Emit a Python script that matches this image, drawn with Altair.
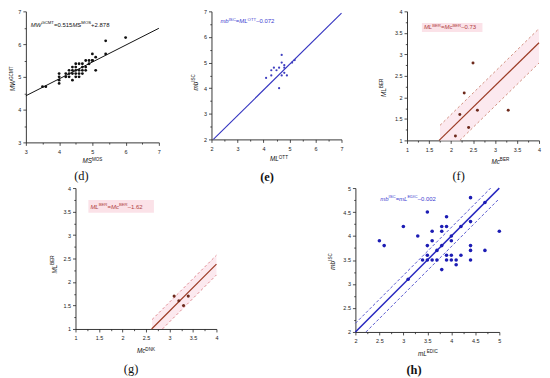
import altair as alt
import pandas as pd

SANS = "Liberation Sans"
SERIF = "Liberation Serif"

# ---------------- data ----------------
# (d) MW(GCMT) vs MS(MOS)
d_x = [3.5, 3.6, 4.0, 4.0, 4.0, 4.0, 4.2, 4.2, 4.3, 4.3, 4.3, 4.4, 4.4, 4.4, 4.4,
       4.5, 4.5, 4.5, 4.5, 4.5, 4.6, 4.6, 4.6, 4.6, 4.7, 4.7, 4.7, 4.7, 4.8, 4.8,
       4.8, 4.9, 4.9, 5.0, 5.0, 5.0, 5.1, 5.1, 5.4, 5.4, 6.0]
d_y = [4.7, 4.7, 5.1, 5.0, 4.9, 4.8, 5.1, 5.0, 5.2, 5.1, 5.0, 5.3, 5.2, 5.1, 4.9,
       5.4, 5.3, 5.2, 5.1, 5.0, 5.4, 5.2, 5.1, 5.0, 5.4, 5.3, 5.2, 5.1, 5.5, 5.3,
       5.2, 5.5, 5.4, 5.5, 5.7, 5.5, 5.6, 5.2, 5.7, 6.1, 6.2]
d_fit_x = [3.0, 7.0]
d_fit_y = [4.423, 6.483]

# (e) mb(ISC) vs ML(OTT)
e_x = [4.1, 4.3, 4.3, 4.4, 4.5, 4.6, 4.6, 4.7, 4.7, 4.7, 4.8, 4.8, 4.8, 4.9, 5.1, 5.2]
e_y = [4.4, 4.7, 4.5, 4.8, 4.7, 4.8, 4.0, 5.3, 5.0, 4.5, 4.8, 4.9, 4.6, 4.5, 5.0, 5.1]
e_fit_x = [2.072, 7.0]
e_fit_y = [2.0, 6.928]

# (f) ML(BER) vs Mc(BER)
f_x = [2.1, 2.2, 2.3, 2.5, 2.4, 2.6, 3.3]
f_y = [1.1, 1.6, 2.1, 2.8, 1.3, 1.7, 1.7]
f_fit_x = [1.73, 4.0]
f_fit_y = [1.0, 3.27]
f_up_x = [1.75, 4.0]
f_up_y = [1.35, 3.6]
f_lo_x = [2.2, 4.0]
f_lo_y = [1.0, 2.8]
f_band_x = [1.75, 2.2, 4.0]
f_band_lo = [1.0, 1.0, 2.8]
f_band_hi = [1.35, 1.8, 3.6]

# (g) ML(BER) vs Mc(DNK)
g_x = [3.1, 3.2, 3.4, 3.3]
g_y = [1.7, 1.6, 1.7, 1.5]
g_fit_x = [2.62, 4.0]
g_fit_y = [1.0, 2.38]
g_up_x = [2.63, 4.0]
g_up_y = [1.2, 2.57]
g_lo_x = [2.85, 4.0]
g_lo_y = [1.0, 2.15]
g_band_x = [2.63, 2.85, 4.0]
g_band_lo = [1.0, 1.0, 2.15]
g_band_hi = [1.2, 1.42, 2.57]

# (h) mb(ISC) vs mL(EDIC)
h_x = [2.5, 2.6, 3.0, 3.1, 3.3, 3.4, 3.5, 3.5, 3.5, 3.5, 3.6, 3.6, 3.6, 3.7, 3.7,
       3.8, 3.8, 3.8, 3.8, 3.9, 3.9, 3.9, 3.9, 4.0, 4.0, 4.0, 4.0, 4.1, 4.1, 4.2,
       4.2, 4.4, 4.4, 4.4, 4.4, 4.4, 4.7, 4.7, 5.0]
h_y = [3.9, 3.8, 4.2, 3.1, 4.0, 3.5, 4.5, 3.8, 3.6, 3.5, 4.1, 3.9, 3.5, 3.7, 3.5,
       4.2, 4.1, 3.8, 3.3, 4.4, 4.2, 3.6, 3.5, 4.0, 3.9, 3.6, 3.5, 3.5, 3.4, 4.2,
       3.6, 4.8, 4.3, 3.8, 3.7, 3.5, 4.7, 3.7, 4.1]
h_fit_x = [2.0, 5.0]
h_fit_y = [2.0, 4.998]
h_up_x = [2.0, 4.82]
h_up_y = [2.18, 5.0]
h_lo_x = [2.22, 5.0]
h_lo_y = [2.0, 4.78]

# ---------------- helpers ----------------
ONE = pd.DataFrame({"k": [0]})
AW = {"M": 833, "W": 944, "S": 667, "L": 556, "G": 778, "C": 722, "T": 611,
      "O": 778, "I": 278, "B": 667, "E": 667, "R": 722, "D": 722, "N": 722,
      "K": 667, "m": 833, "b": 556, "c": 500, ".": 278, "=": 584, "+": 584,
      "\u2013": 556, "-": 333}


def tw(s, size):
    return sum(AW.get(c, 556) for c in s) * size / 1000.0


def rich(segs, x, y, size, color, angle=0, center=False, font=SANS):
    sup = size * 0.72
    widths = [tw(t, sup if k == "s" else size) for t, k in segs]
    off = -sum(widths) / 2 if center else 0.0
    out = []
    for (t, k), wd in zip(segs, widths):
        out.append(
            alt.Chart(ONE).mark_text(
                text=t, font=font, fontSize=sup if k == "s" else size,
                fontStyle="italic" if k == "i" else "normal",
                align="left", baseline="alphabetic", dx=off,
                dy=-size * 0.42 if k == "s" else 0, angle=angle, color=color,
            ).encode(x=alt.value(x), y=alt.value(y))
        )
        off += wd
    return out


def make_axis(dom, major, minor, orient):
    n = int(round((dom[1] - dom[0]) / minor))
    vals = [round(dom[0] + i * minor, 4) for i in range(n + 1)]
    test = f"abs(datum.value/{major} - round(datum.value/{major})) < 0.001"
    return alt.Axis(
        values=vals, title=None, grid=False, labelOverlap=False, labelFlush=False,
        labelExpr=f"{test} ? format(datum.value, '~g') : ''",
        labelFont=SANS, labelFontSize=5.5, labelColor="#222",
        labelPadding=4 if orient == "x" else 2,
        tickSize={"condition": {"test": test, "value": 3}, "value": 1.7},
        tickColor="#222", tickWidth=0.8, domainColor="#222", domainWidth=0.9,
    )


def panel(p):
    xs = alt.Scale(domain=p["xdom"], nice=False, zero=False)
    ys = alt.Scale(domain=p["ydom"], nice=False, zero=False)
    ax = make_axis(p["xdom"], p["major"], p["minor"], "x")
    ay = make_axis(p["ydom"], p["major"], p["minor"], "y")
    X = alt.X("x:Q", scale=xs, axis=ax)
    Y = alt.Y("y:Q", scale=ys, axis=ay)
    w, h = p["w"], p["h"]
    layers = []
    if p.get("band"):
        bx, blo, bhi = p["band"]
        bdf = pd.DataFrame({"x": bx, "y": blo, "y2": bhi})
        layers.append(alt.Chart(bdf).mark_area(color="#fce9ef", opacity=1)
                      .encode(x=X, y=Y, y2="y2:Q"))
    if p.get("box"):
        bx0, by0, bx1, by1 = p["box"]
        layers.append(alt.Chart(ONE).mark_rect(color="#fbe2e8")
                      .encode(x=alt.value(bx0), x2=alt.value(bx1),
                              y=alt.value(by0), y2=alt.value(by1)))
    for lx, ly, col, lw, dash in p["lines"]:
        ldf = pd.DataFrame({"x": lx, "y": ly})
        kw = dict(color=col, strokeWidth=lw)
        if dash:
            kw["strokeDash"] = dash
        layers.append(alt.Chart(ldf).mark_line(**kw).encode(x=X, y=Y))
    pdf = pd.DataFrame({"x": p["px"], "y": p["py"]})
    layers.append(alt.Chart(pdf).mark_circle(color=p["pc"], size=p["ps"], opacity=1)
                  .encode(x=X, y=Y))
    ex, ey = p["eq_pos"]
    layers += rich(p["eq"], ex, ey, 6, p["eq_color"])
    tx, toff = p["xt_pos"]
    layers += rich(p["xt"], tx, h + toff, 6.4, "#111", center=True)
    yx, ydel = p["yt_pos"]
    layers += rich(p["yt"], yx, h / 2 + ydel, 6.4, "#111", angle=270, center=True)
    lx_, loff = p["lab_pos"]
    layers.append(alt.Chart(ONE).mark_text(
        text=p["label"], font=SERIF, fontSize=12.5, align="center", baseline="middle",
        fontWeight="bold" if p["bold"] else "normal", color="#111")
        .encode(x=alt.value(lx_), y=alt.value(h + loff)))
    return alt.layer(*layers).properties(width=w, height=h)


def spacer(wd):
    return alt.Chart(ONE).mark_rect(opacity=0).encode(
        x=alt.value(0), x2=alt.value(wd), y=alt.value(0), y2=alt.value(2)
    ).properties(width=wd, height=2)


BLUE_T = "#3b3bd0"
RED_T = "#b0413e"

pd_ = panel(dict(
    xdom=[3, 7], ydom=[3, 7], major=1, minor=0.5, w=134, h=132,
    px=d_x, py=d_y, pc="#111", ps=8,
    lines=[(d_fit_x, d_fit_y, "#111", 1, None)],
    eq=[("MW", "i"), ("GCMT", "s"), ("=0.515", "n"), ("MS", "i"), ("MOS", "s"), ("+2.878", "n")],
    eq_color="#111", eq_pos=(5, 15.5),
    xt=[("MS", "i"), ("MOS", "s")], xt_pos=(67, 21),
    yt=[("MW", "i"), ("GCMT", "s")], yt_pos=(-10.5, 2),
    label="(d)", lab_pos=(56, 34), bold=False,
))

pe_ = panel(dict(
    xdom=[2, 7], ydom=[2, 7], major=1, minor=0.5, w=131, h=129,
    px=e_x, py=e_y, pc="#3f3fc0", ps=5,
    lines=[(e_fit_x, e_fit_y, "#3434c0", 1.1, None)],
    eq=[("mb", "i"), ("ISC", "s"), ("=", "n"), ("ML", "i"), ("OTT", "s"), ("\u20130.072", "n")],
    eq_color=BLUE_T, eq_pos=(9, 12),
    xt=[("ML", "i"), ("OTT", "s")], xt_pos=(68, 22),
    yt=[("mb", "i"), ("ISC", "s")], yt_pos=(-14, 7),
    label="(e)", lab_pos=(56, 38), bold=True,
))

pf_ = panel(dict(
    xdom=[1, 4], ydom=[1, 4], major=0.5, minor=0.25, w=133, h=130,
    px=f_x, py=f_y, pc="#6e2a1c", ps=9,
    band=(f_band_x, f_band_lo, f_band_hi),
    box=(15, 11.7, 76, 20.7),
    lines=[(f_up_x, f_up_y, "#d09080", 1, [2.5, 2.5]),
           (f_lo_x, f_lo_y, "#d09080", 1, [2.5, 2.5]),
           (f_fit_x, f_fit_y, "#9c3b25", 1.2, None)],
    eq=[("ML", "i"), ("BER", "s"), ("=", "n"), ("Mc", "i"), ("BER", "s"), ("\u20130.73", "n")],
    eq_color=RED_T, eq_pos=(17, 18),
    xt=[("Mc", "i"), ("BER", "s")], xt_pos=(94, 23.5),
    yt=[("ML", "i"), ("BER", "s")], yt_pos=(-21, 12),
    label="(f)", lab_pos=(52, 36), bold=False,
))

pg_ = panel(dict(
    xdom=[1, 4], ydom=[1, 4], major=0.5, minor=0.25, w=142, h=142,
    px=g_x, py=g_y, pc="#6e2a1c", ps=10,
    band=(g_band_x, g_band_lo, g_band_hi),
    box=(13, 12, 79, 25),
    lines=[(g_up_x, g_up_y, "#e08a90", 1, [2.5, 2.5]),
           (g_lo_x, g_lo_y, "#e08a90", 1, [2.5, 2.5]),
           (g_fit_x, g_fit_y, "#9c3b25", 1.2, None)],
    eq=[("ML", "i"), ("BER", "s"), ("=", "n"), ("Mc", "i"), ("BER", "s"), ("\u20131.62", "n")],
    eq_color=RED_T, eq_pos=(15, 21),
    xt=[("Mc", "i"), ("DNK", "s")], xt_pos=(71, 24.5),
    yt=[("ML", "i"), ("BER", "s")], yt_pos=(-19, 6),
    label="(g)", lab_pos=(56, 40.5), bold=False,
))

ph_ = panel(dict(
    xdom=[2, 5], ydom=[2, 5], major=0.5, minor=0.25, w=145, h=145,
    px=h_x, py=h_y, pc="#1c1cb4", ps=13,
    lines=[(h_up_x, h_up_y, "#5a5ad0", 1, [3, 2]),
           (h_lo_x, h_lo_y, "#5a5ad0", 1, [3, 2]),
           (h_fit_x, h_fit_y, "#2828c0", 1.5, None)],
    eq=[("mb", "i"), ("ISC", "s"), ("=", "n"), ("mL", "i"), ("EDIC", "s"), ("\u20130.002", "n")],
    eq_color=BLUE_T, eq_pos=(25, 12.7),
    xt=[("mL", "i"), ("EDIC", "s")], xt_pos=(73, 24),
    yt=[("mb", "i"), ("ISC", "s")], yt_pos=(-21, 1.5),
    label="(h)", lab_pos=(59, 38.5), bold=True,
))

top = alt.hconcat(pd_, spacer(30), pe_, spacer(35), pf_, spacing=0)
bottom = alt.hconcat(spacer(24), pg_, spacer(109), ph_, spacing=0)

chart = alt.vconcat(top, bottom, spacing=1).properties(padding=0).configure_view(stroke=None)

chart.save("out.html", embed_options={"renderer": "svg", "actions": False})
